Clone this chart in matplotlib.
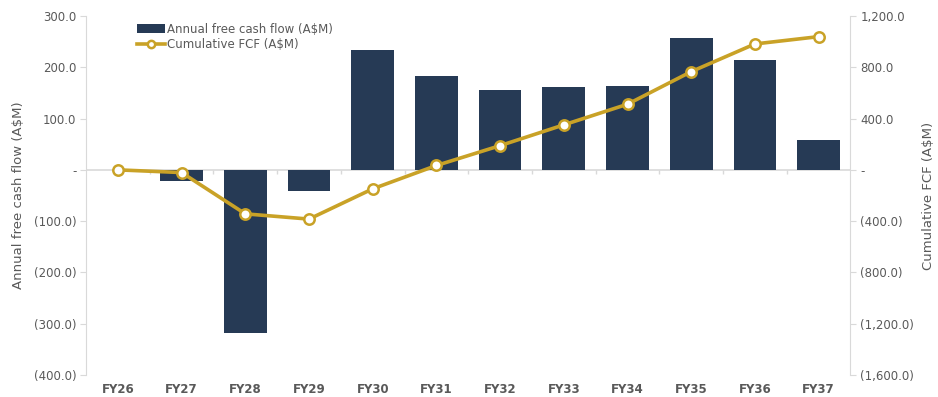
import matplotlib.pyplot as plt
import matplotlib.ticker as mticker
import numpy as np

# data
years = ["FY26", "FY27", "FY28", "FY29", "FY30", "FY31",
         "FY32", "FY33", "FY34", "FY35", "FY36", "FY37"]
annual_fcf = [0, -21, -318, -42, 234, 183, 156, 161, 164, 257, 214, 58]
cumulative_fcf = [0, -21, -343, -384, -148, 34, 189, 351, 512, 766, 982, 1039]

navy = "#263a55"
gold = "#c9a227"
grey = "#595959"
light = "#d9d9d9"


def fmt(v, pos):
    if abs(v) < 1e-9:
        return "-"
    if v < 0:
        return "({:,.1f})".format(-v)
    return "{:,.1f}".format(v)


plt.rcParams['font.family'] = ['DejaVu Sans']
fig = plt.figure(figsize=(9.38, 3.97), dpi=100)
ax = fig.add_axes([0.0917, 0.0554, 0.815, 0.9043])
ax2 = ax.twinx()

x = np.arange(len(years))
bars = ax.bar(x, annual_fcf, width=0.67, color=navy, linewidth=0,
              label="Annual free cash flow (A$M)", zorder=2)
ax.axhline(0, color=light, linewidth=1.2, zorder=1)
# small ticks on the zero line between categories
ax.vlines(x[:-1] + 0.5, -8, 0, color=light, linewidth=1.0, zorder=1)

line, = ax2.plot(x, cumulative_fcf, color=gold, linewidth=2.6, marker="o",
                 markersize=7.5, markerfacecolor="white", markeredgecolor=gold,
                 markeredgewidth=1.8, label="Cumulative FCF (A$M)", zorder=3)

ax.set_xlim(-0.5, len(years) - 0.5)
ax.set_ylim(-400, 300)
ax2.set_ylim(-1600, 1200)
ax.set_yticks(np.arange(-400, 301, 100))
ax2.set_yticks(np.arange(-1600, 1201, 400))
ax.yaxis.set_major_formatter(mticker.FuncFormatter(fmt))
ax2.yaxis.set_major_formatter(mticker.FuncFormatter(fmt))

ax.set_xticks(x)
ax.set_xticklabels(years, fontsize=8.5, fontweight="bold", color=grey)
ax.tick_params(axis="x", length=0, pad=6)
ax.tick_params(axis="y", labelsize=8.5, labelcolor=grey, color=light,
               length=4, pad=3)
ax2.tick_params(axis="y", labelsize=8.5, labelcolor=grey, color=light,
                length=4, pad=3)

for a in (ax, ax2):
    a.spines['top'].set_visible(False)
    a.spines['bottom'].set_visible(False)
    a.spines['left'].set_color(light)
    a.spines['right'].set_color(light)
ax.spines['right'].set_visible(False)
ax2.spines['left'].set_visible(False)

ax.set_ylabel("Annual free cash flow (A$M)", fontsize=9.5, color=grey,
              labelpad=6)
ax2.set_ylabel("Cumulative FCF (A$M)", fontsize=9.5, color=grey, labelpad=6)

leg = ax.legend([bars, line], [bars.get_label(), line.get_label()],
                loc="upper left", bbox_to_anchor=(0.061, 0.995), frameon=False,
                fontsize=8.5, handlelength=2.3, handletextpad=0.2,
                labelspacing=0.25, borderaxespad=0, markerscale=0.7)
for t in leg.get_texts():
    t.set_color(grey)

fig.savefig("out.png", dpi=100)
